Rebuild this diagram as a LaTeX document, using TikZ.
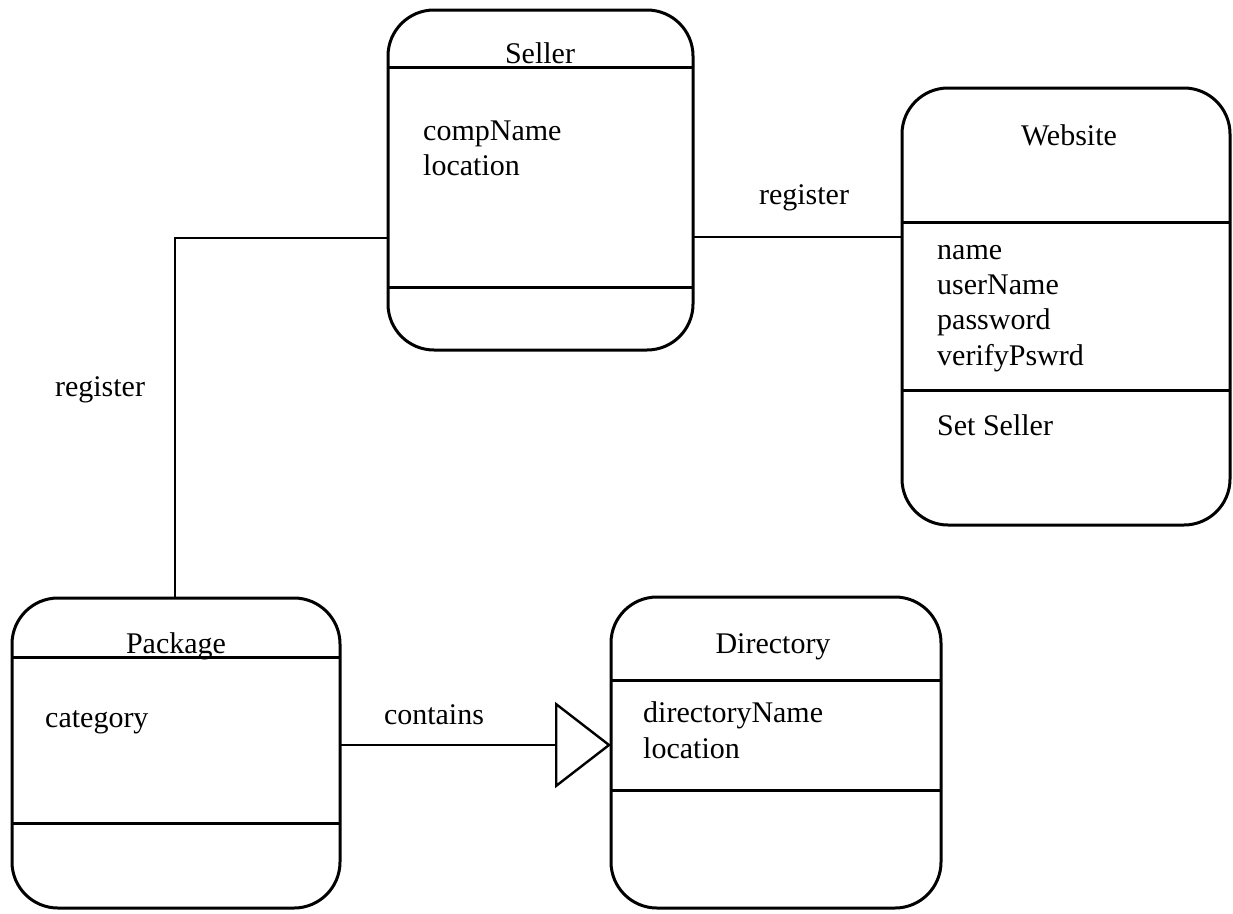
\documentclass[tikz,border=0pt]{standalone}
\usepackage{fontspec}
\setmainfont{Liberation Serif}
\usetikzlibrary{arrows.meta}
\begin{document}
\begin{tikzpicture}[x=1pt,y=-1pt,
  cls/.style={draw,line width=3pt,rounded corners=46pt,inner sep=0pt,outer sep=0pt},
  sep/.style={line width=3pt},
  conn/.style={line width=2.6pt},
  txt/.style={font=\fontsize{30}{36}\selectfont,inner sep=0pt,anchor=base west},
  ttl/.style={font=\fontsize{30}{36}\selectfont,inner sep=0pt,anchor=base},
  lbl/.style={font=\fontsize{30}{36}\selectfont,inner sep=0pt,anchor=base}]
\useasboundingbox (0,0) rectangle (1233,913);
% class boxes
\node[cls,minimum width=305pt,minimum height=340pt] (seller) at (540.5,180) {};
\node[cls,minimum width=328pt,minimum height=437pt] (website) at (1066,306.5) {};
\node[cls,minimum width=328pt,minimum height=310pt] (package) at (176,753) {};
\node[cls,minimum width=330pt,minimum height=311pt] (directory) at (776,752.5) {};
% dividers
\draw[sep] (seller.west |- 0,67) -- (seller.east |- 0,67);
\draw[sep] (seller.west |- 0,287) -- (seller.east |- 0,287);
\draw[sep] (website.west |- 0,222) -- (website.east |- 0,222);
\draw[sep] (website.west |- 0,390) -- (website.east |- 0,390);
\draw[sep] (package.west |- 0,657) -- (package.east |- 0,657);
\draw[sep] (package.west |- 0,823) -- (package.east |- 0,823);
\draw[sep] (directory.west |- 0,680) -- (directory.east |- 0,680);
\draw[sep] (directory.west |- 0,790) -- (directory.east |- 0,790);
% titles
\node[ttl] (tSeller) at (540,63) {Seller};
\node[ttl] (tWebsite) at (1069,145) {Website};
\node[ttl] (tPackage) at (176,653) {Package};
\node[ttl] (tDirectory) at (773,653) {Directory};
% attributes
\node[txt] (aCompName) at (423,140) {compName};
\node[txt] (aLocation1) at (423,175) {location};
\node[txt] (aName) at (937,259) {name};
\node[txt] (aUserName) at (937,294) {userName};
\node[txt] (aPassword) at (937,329) {password};
\node[txt] (aVerify) at (937,365) {verifyPswrd};
\node[txt] (oSetSeller) at (937,435) {Set Seller};
\node[txt] (aCategory) at (45,727) {category};
\node[txt] (aDirName) at (643,722) {directoryName};
\node[txt] (aLocation2) at (643,758) {location};
% connectors
\coordinate (ySW) at (0,237);
\draw[conn] (seller.east |- ySW) -- (website.west |- ySW);
\node[lbl] (lRegister1) at (804,204) {register};
\coordinate (ySP) at (0,238);
\coordinate (xSP) at (175,0);
\draw[conn] (seller.west |- ySP) -- (xSP |- ySP) -- (xSP |- package.north);
\node[lbl] (lRegister2) at (100,396) {register};
\coordinate (yPD) at (0,745);
\draw[conn,-{Triangle[open,length=56pt,width=86pt,line width=2.4pt]}] (package.east |- yPD) -- (directory.west |- yPD);
\node[lbl] (lContains) at (434,724) {contains};
\end{tikzpicture}
\end{document}
